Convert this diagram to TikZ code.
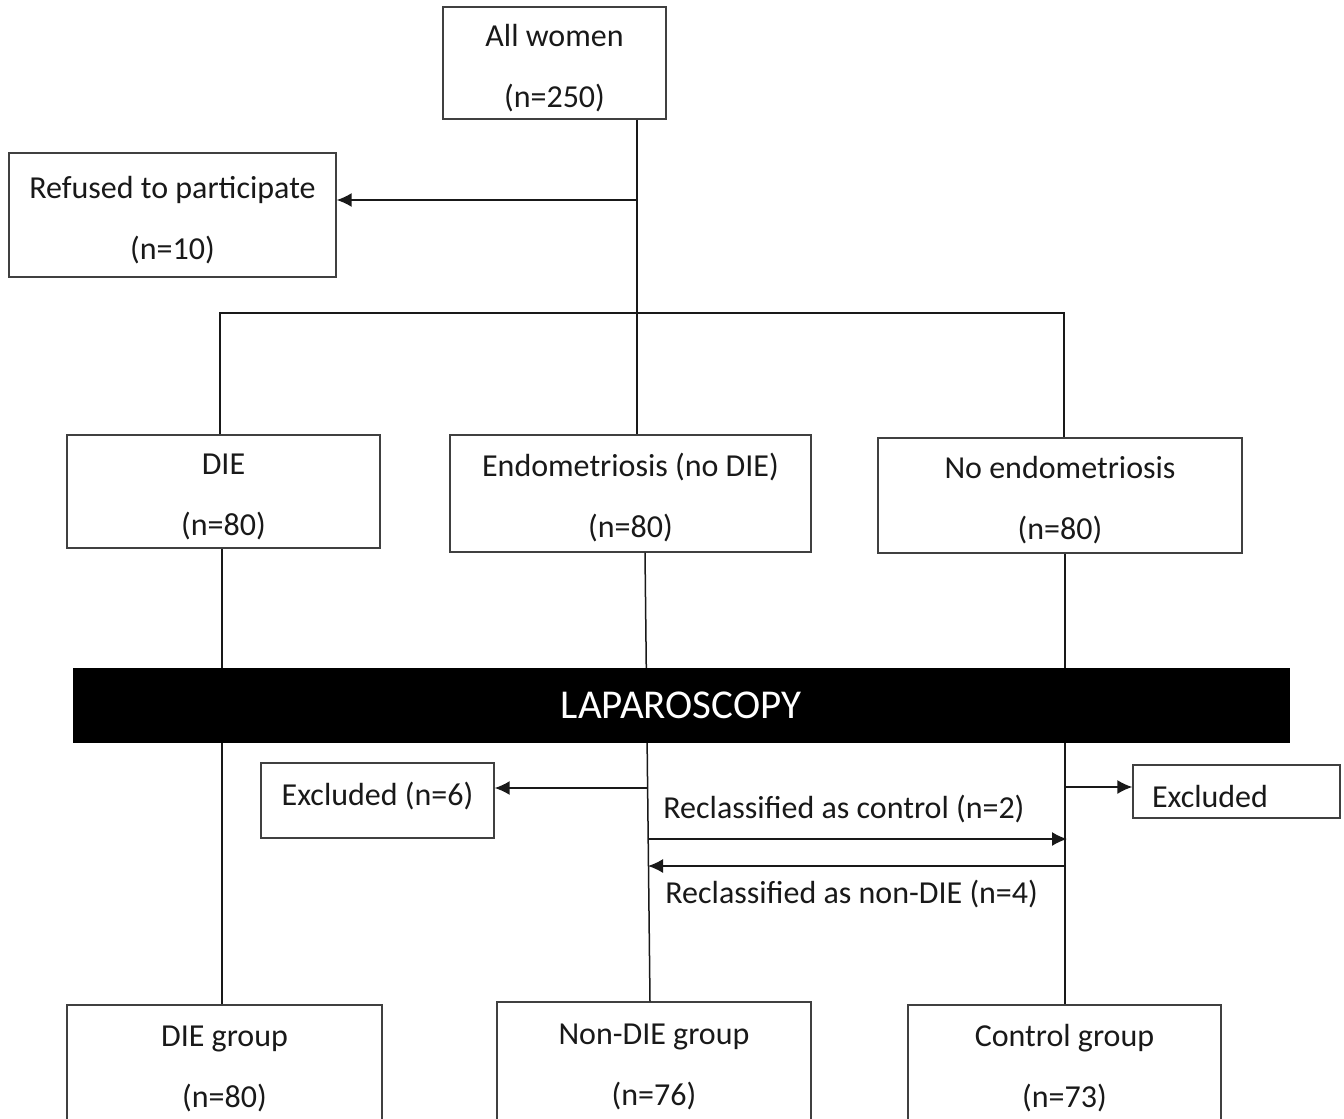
\documentclass[tikz,border=0pt]{standalone}
\usepackage{fontspec}
\setmainfont{Carlito}
\usetikzlibrary{arrows.meta,calc}
\begin{document}
\begin{tikzpicture}[x=0.5pt,y=-0.5pt,
 box/.style={draw=black!75, line width=0.7pt, align=center, font=\fontsize{16}{30.5}\selectfont, inner sep=0pt, text=black!90},
 twobox/.style={box, text height=46.5pt},
 link/.style={draw=black!90, line width=0.75pt},
 arr/.style={link, -{Latex[length=7.5pt,width=7pt]}},
 lbl/.style={font=\fontsize{16}{19}\selectfont, inner sep=0pt, text=black!90}]
\clip (0,0) rectangle (1344,1119);
\fill[white] (0,0) rectangle (1344,1119);
% top boxes
\node[twobox, minimum width=111.5pt, minimum height=56pt] (allw) at (554.5,63) {All women\\(n=250)};
\node[twobox, minimum width=163.5pt, minimum height=62pt] (refused) at (172.5,215) {Refused to participate\\(n=10)};
\node[twobox, minimum width=156.5pt, minimum height=56.5pt] (die) at (223.5,491.5) {DIE\\(n=80)};
\node[twobox, minimum width=180.5pt, minimum height=58.5pt] (endo) at (630.5,493.5) {Endometriosis (no DIE)\\(n=80)};
\node[twobox, minimum width=182pt, minimum height=57.5pt] (noendo) at (1060,495.5) {No endometriosis\\(n=80)};
% bottom boxes
\node[twobox, minimum width=157.5pt, minimum height=58.5pt] (dieg) at (224.5,1063.5) {DIE group\\(n=80)};
\node[twobox, minimum width=157pt, minimum height=59pt] (nondieg) at (654,1061) {Non-DIE group\\(n=76)};
\node[twobox, minimum width=156.5pt, minimum height=58.5pt] (ctrlg) at (1064.5,1063.5) {Control group\\(n=73)};
% excluded boxes
\node[box, minimum width=116.5pt, minimum height=37.5pt, text depth=7pt] (excl1) at (377.5,800.5) {Excluded (n=6)};
\node[box, minimum width=103.5pt, minimum height=26.5pt, text width=84.5pt, align=left, text height=16.5pt] (excl2) at (1236.5,791.5) {Excluded};
% upper connectors
\coordinate (split) at (637,313);
\coordinate (rj) at (637,200);
\coordinate (lft) at (220,313);
\coordinate (rgt) at (1064,313);
\draw[link] (split |- allw.south) -- (split);
\draw[arr] (rj) -- (rj -| refused.east);
\draw[link] (lft |- die.north) -- (lft) -- (rgt) -- (rgt |- noendo.north);
\draw[link] (split) -- (split |- endo.north);
% vertical lines through laparoscopy
\coordinate (lline) at (222,0);
\coordinate (mtop) at (645,0);
\coordinate (mbot) at (650,0);
\coordinate (rline) at (1065,0);
\draw[link] (lline |- die.south) -- (lline |- dieg.north);
\draw[link] (mtop |- endo.south) -- (mbot |- nondieg.north);
\draw[link] (rline |- noendo.south) -- (rline |- ctrlg.north);
% laparoscopy bar
\node[fill=black, draw=black, minimum width=608pt, minimum height=37pt, inner sep=0pt, text=white, font=\fontsize{20.5}{24}\selectfont] (lap) at (681,705) {LAPAROSCOPY};
% lower arrows
\coordinate (e1) at (647,788);
\coordinate (e2) at (1065,787);
\draw[arr] (e1) -- (e1 -| excl1.east);
\draw[arr] (e2) -- (e2 -| excl2.west);
\coordinate (c1) at (648,839);
\coordinate (c2) at (1067,839);
\coordinate (n1) at (1066,866);
\coordinate (n2) at (648,866);
\draw[arr] (c1) -- (c2);
\draw[arr] (n1) -- (n2);
\node[lbl, anchor=west] (lc) at (663,809) {Reclassified as control (n=2)};
\node[lbl, anchor=west] (ln) at (665,894) {Reclassified as non-DIE (n=4)};
\end{tikzpicture}
\end{document}
